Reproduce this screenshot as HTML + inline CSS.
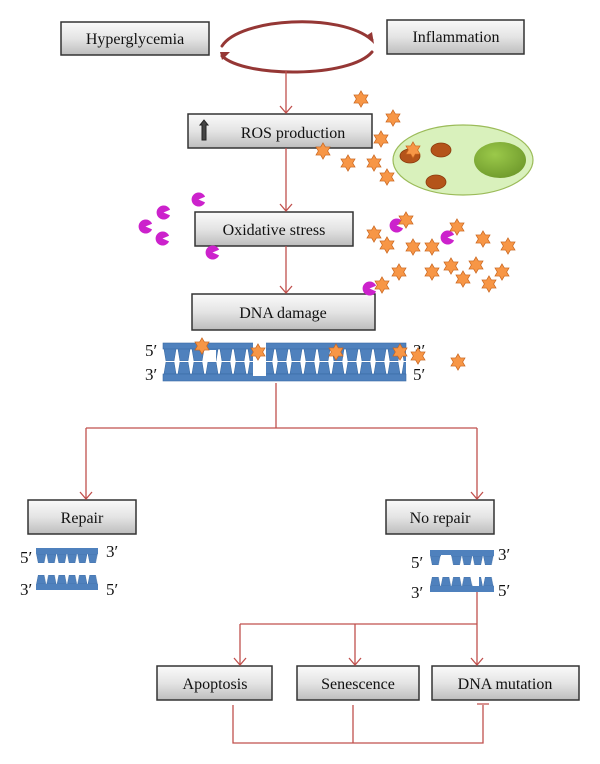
<!DOCTYPE html>
<html><head><meta charset="utf-8"><style>
body{margin:0;background:#fff;}
svg{display:block;font-family:"Liberation Serif",serif;}
</style></head><body>
<svg width="600" height="764" viewBox="0 0 600 764" xmlns="http://www.w3.org/2000/svg">
<defs>
<linearGradient id="g" x1="0" y1="0" x2="0" y2="1"><stop offset="0" stop-color="#fafafa"/><stop offset="0.5" stop-color="#e4e4e4"/><stop offset="1" stop-color="#bdbdbd"/></linearGradient>
<radialGradient id="nuc" cx="0.4" cy="0.35" r="0.7"><stop offset="0" stop-color="#9bc94a"/><stop offset="1" stop-color="#6f9a2c"/></radialGradient>
<pattern id="tt" x="163" y="349" width="14" height="12" patternUnits="userSpaceOnUse"><polygon points="1,0 13,0 11,12 3,12" fill="#4f81bd" stroke="#3a6aa3" stroke-width="0.6"/></pattern>
<pattern id="tb" x="163" y="362" width="14" height="12" patternUnits="userSpaceOnUse"><polygon points="3,0 11,0 13,12 1,12" fill="#4f81bd" stroke="#3a6aa3" stroke-width="0.6"/></pattern>
<pattern id="tt2" x="36" y="554" width="10.3" height="9" patternUnits="userSpaceOnUse"><polygon points="0.5,0 9.8,0 8,9 2.3,9" fill="#4f81bd" stroke="#3a6aa3" stroke-width="0.5"/></pattern>
<pattern id="tb2" x="36" y="575" width="10.3" height="9" patternUnits="userSpaceOnUse"><polygon points="2.3,0 8,0 9.8,9 0.5,9" fill="#4f81bd" stroke="#3a6aa3" stroke-width="0.5"/></pattern>
<pattern id="tt3" x="430" y="556" width="10.6" height="9" patternUnits="userSpaceOnUse"><polygon points="0.5,0 10.1,0 8.3,9 2.3,9" fill="#4f81bd" stroke="#3a6aa3" stroke-width="0.5"/></pattern>
<pattern id="tb3" x="430" y="577" width="10.6" height="9" patternUnits="userSpaceOnUse"><polygon points="2.3,0 8.3,0 10.1,9 0.5,9" fill="#4f81bd" stroke="#3a6aa3" stroke-width="0.5"/></pattern>
<symbol id="st" viewBox="-10 -10 20 20"><polygon points="0,-9 2.6,-4.5 7.8,-4.5 5.2,0 7.8,4.5 2.6,4.5 0,9 -2.6,4.5 -7.8,4.5 -5.2,0 -7.8,-4.5 -2.6,-4.5" fill="#f79646" stroke="#c9651e" stroke-width="0.8"/></symbol>
<symbol id="pm" viewBox="-8 -8 16 16"><path d="M0,0 L7,-3 A7.5,7.5 0 1 0 7,3 Z" fill="#cc22cc"/></symbol>
</defs>

<g stroke="#333" stroke-width="1.5" fill="url(#g)">
<rect x="61" y="22" width="148" height="33"/>
<rect x="387" y="20" width="137" height="34"/>
<rect x="188" y="114" width="184" height="34"/>
<rect x="195" y="212" width="158" height="34"/>
<rect x="192" y="294" width="183" height="36"/>
<rect x="28" y="500" width="108" height="34"/>
<rect x="386" y="500" width="108" height="34"/>
<rect x="157" y="666" width="115" height="34"/>
<rect x="297" y="666" width="122" height="34"/>
<rect x="432" y="666" width="147" height="34"/>
</g>
<g font-size="16" fill="#111" text-anchor="middle">
<text x="135" y="44">Hyperglycemia</text>
<text x="456" y="42">Inflammation</text>
<text x="293" y="138">ROS production</text>
<text x="274" y="235">Oxidative stress</text>
<text x="283" y="318">DNA damage</text>
<text x="82" y="523">Repair</text>
<text x="440" y="523">No repair</text>
<text x="215" y="689">Apoptosis</text>
<text x="358" y="689">Senescence</text>
<text x="505" y="689">DNA mutation</text>
</g>
<polygon points="204,120 208,125 206,125 206,140 202,140 202,125 200,125" fill="#444" stroke="#222" stroke-width="1"/>

<g fill="none" stroke="#953735" stroke-linecap="round">
<path d="M222,46 C240,18 340,12 372,40" stroke-width="3"/>
<path d="M222,56 C245,78 350,78 372,52" stroke-width="3"/>
</g>
<polygon points="366,36 374,44 372,32" fill="#953735"/>
<polygon points="220,52 230,52 222,60" fill="#953735"/>

<g stroke="#c0504d" stroke-width="1.3" fill="none">
<path d="M286,71V113M286,148V211M286,246V293"/>
<path d="M276,383V428M86,428H477M86,428V499M477,428V499"/>
<path d="M477,592V624M240,624H477M240,624V665M355,624V665M477,624V665"/>
<path d="M233,705V743H483V705M353,705V743M477,704H489"/>
<path d="M280,106l6,7l6,-7M280,204l6,7l6,-7M280,286l6,7l6,-7M80,492l6,7l6,-7M471,492l6,7l6,-7M234,658l6,7l6,-7M349,658l6,7l6,-7M471,658l6,7l6,-7"/>
</g>

<ellipse cx="463" cy="160" rx="70" ry="35" fill="#d9f1bc" stroke="#9bbb59" stroke-width="1.2"/>
<ellipse cx="500" cy="160" rx="26" ry="18" fill="url(#nuc)"/>
<g fill="#b4541a" stroke="#8a3a0c" stroke-width="0.8">
<ellipse cx="410" cy="156" rx="10" ry="7"/><ellipse cx="441" cy="150" rx="10" ry="7"/><ellipse cx="436" cy="182" rx="10" ry="7"/>
</g>

<rect x="163" y="343" width="243" height="6" fill="#4f81bd" stroke="#3a6aa3" stroke-width="0.6"/>
<rect x="163" y="349" width="243" height="12" fill="url(#tt)"/>
<rect x="163" y="362" width="243" height="12" fill="url(#tb)"/>
<rect x="163" y="374" width="243" height="7" fill="#4f81bd" stroke="#3a6aa3" stroke-width="0.6"/>
<rect x="253" y="341" width="13" height="35" fill="#fff"/>
<rect x="204" y="350" width="12" height="12" fill="#fff"/>
<g font-size="17" fill="#111"><text x="145" y="356">5′</text><text x="145" y="380">3′</text><text x="413" y="356">3′</text><text x="413" y="380">5′</text></g>

<rect x="36" y="548" width="62" height="6" fill="#4f81bd"/>
<rect x="36" y="554" width="62" height="9" fill="url(#tt2)"/>
<rect x="36" y="575" width="62" height="9" fill="url(#tb2)"/>
<rect x="36" y="584" width="62" height="6" fill="#4f81bd"/>
<g font-size="17" fill="#111"><text x="20" y="563">5′</text><text x="106" y="557">3′</text><text x="20" y="595">3′</text><text x="106" y="595">5′</text></g>

<rect x="430" y="550" width="64" height="6" fill="#4f81bd"/>
<rect x="430" y="556" width="64" height="9" fill="url(#tt3)"/>
<rect x="441" y="555" width="10" height="11" fill="#fff"/>
<rect x="430" y="577" width="64" height="9" fill="url(#tb3)"/>
<rect x="473" y="576" width="6" height="10" fill="#fff"/>
<rect x="430" y="586" width="64" height="6" fill="#4f81bd"/>
<g font-size="17" fill="#111"><text x="411" y="568">5′</text><text x="498" y="560">3′</text><text x="411" y="598">3′</text><text x="498" y="596">5′</text></g>

<g>
<use href="#pm" x="138" y="219" width="15" height="15"/>
<use href="#pm" x="156" y="205" width="15" height="15"/>
<use href="#pm" x="155" y="231" width="15" height="15"/>
<use href="#pm" x="191" y="192" width="15" height="15"/>
<use href="#pm" x="205" y="245" width="15" height="15"/>
<use href="#pm" x="389" y="218" width="15" height="15"/>
<use href="#pm" x="440" y="230" width="15" height="15"/>
<use href="#pm" x="362" y="281" width="15" height="15"/>
</g>

<g>
<use href="#st" x="352" y="90" width="18" height="18"/>
<use href="#st" x="384" y="109" width="18" height="18"/>
<use href="#st" x="372" y="130" width="18" height="18"/>
<use href="#st" x="314" y="142" width="18" height="18"/>
<use href="#st" x="339" y="154" width="18" height="18"/>
<use href="#st" x="365" y="154" width="18" height="18"/>
<use href="#st" x="378" y="168" width="18" height="18"/>
<use href="#st" x="404" y="141" width="18" height="18"/>
<use href="#st" x="397" y="211" width="18" height="18"/>
<use href="#st" x="365" y="225" width="18" height="18"/>
<use href="#st" x="378" y="236" width="18" height="18"/>
<use href="#st" x="404" y="238" width="18" height="18"/>
<use href="#st" x="423" y="238" width="18" height="18"/>
<use href="#st" x="448" y="218" width="18" height="18"/>
<use href="#st" x="474" y="230" width="18" height="18"/>
<use href="#st" x="499" y="237" width="18" height="18"/>
<use href="#st" x="390" y="263" width="18" height="18"/>
<use href="#st" x="423" y="263" width="18" height="18"/>
<use href="#st" x="442" y="257" width="18" height="18"/>
<use href="#st" x="454" y="270" width="18" height="18"/>
<use href="#st" x="467" y="256" width="18" height="18"/>
<use href="#st" x="480" y="275" width="18" height="18"/>
<use href="#st" x="493" y="263" width="18" height="18"/>
<use href="#st" x="373" y="276" width="18" height="18"/>
<use href="#st" x="193" y="337" width="18" height="18"/>
<use href="#st" x="249" y="343" width="18" height="18"/>
<use href="#st" x="327" y="343" width="18" height="18"/>
<use href="#st" x="391" y="343" width="18" height="18"/>
<use href="#st" x="409" y="347" width="18" height="18"/>
<use href="#st" x="449" y="353" width="18" height="18"/>
</g>
</svg>
</body></html>
